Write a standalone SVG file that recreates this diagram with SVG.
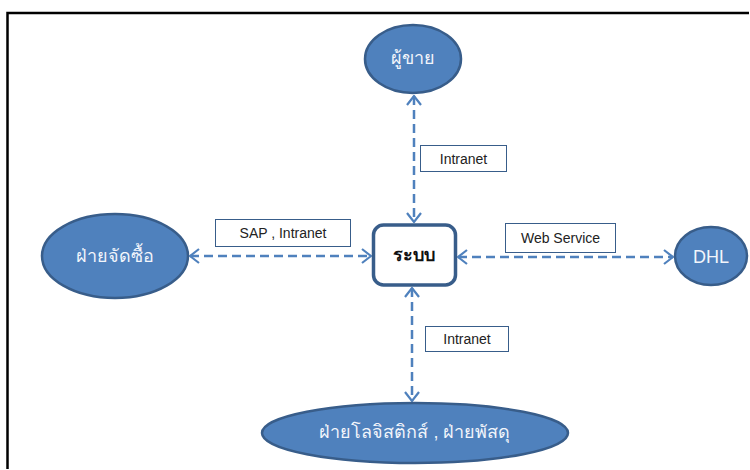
<svg xmlns="http://www.w3.org/2000/svg" width="750" height="470" viewBox="0 0 750 470">
  <style>
    .node { fill: #4F81BD; stroke: #385D8A; stroke-width: 2.5; }
    .ntext { fill: #F2F5FB; font-family: "Liberation Sans", "Noto Sans", sans-serif; font-size: 18px; text-anchor: middle; dominant-baseline: central; }
    .sys { fill: #FFFFFF; stroke: #385D8A; stroke-width: 3.5; }
    .systext { fill: #111111; font-family: "Liberation Sans", "Noto Sans", sans-serif; font-size: 18px; font-weight: bold; text-anchor: middle; dominant-baseline: central; }
    .link { fill: none; stroke: #4F81BD; stroke-width: 2.5; stroke-dasharray: 9 5; }
    .lbl { fill: #FFFFFF; stroke: #385D8A; stroke-width: 1; }
    .ltext { fill: #222222; font-family: "Liberation Sans", "Noto Sans", sans-serif; font-size: 14px; text-anchor: middle; dominant-baseline: central; }
    .frame { fill: none; stroke: #000000; stroke-width: 2.5; }
  </style>
  <defs>
    <marker id="chev" viewBox="0 0 11 16" refX="10" refY="8" markerWidth="11" markerHeight="16" markerUnits="userSpaceOnUse" orient="auto-start-reverse">
      <path d="M1,1 L10,8 L1,15" fill="none" stroke="#4F81BD" stroke-width="2.2"/>
    </marker>
  </defs>

  <!-- outer frame (top and left edges) -->
  <path class="frame" d="M7.5,469 V13 H749"/>

  <!-- connectors -->
  <g id="connectors">
    <line class="link" x1="414" y1="96" x2="414" y2="222" marker-start="url(#chev)" marker-end="url(#chev)"/>
    <line class="link" x1="190" y1="256" x2="371" y2="256" marker-start="url(#chev)" marker-end="url(#chev)"/>
    <line class="link" x1="458" y1="257" x2="673" y2="257" marker-start="url(#chev)" marker-end="url(#chev)"/>
    <line class="link" x1="412" y1="288" x2="412" y2="401" marker-start="url(#chev)" marker-end="url(#chev)"/>
  </g>

  <!-- connector labels -->
  <g id="label-top">
    <rect class="lbl" x="420.5" y="145.5" width="86" height="26"/>
    <text class="ltext" x="463.5" y="158.5">Intranet</text>
  </g>
  <g id="label-left">
    <rect class="lbl" x="215.5" y="219.5" width="135" height="27"/>
    <text class="ltext" x="283" y="233">SAP , Intranet</text>
  </g>
  <g id="label-right">
    <rect class="lbl" x="505.5" y="223.5" width="110" height="29"/>
    <text class="ltext" x="560.5" y="238">Web Service</text>
  </g>
  <g id="label-bottom">
    <rect class="lbl" x="425.5" y="326.5" width="83" height="25"/>
    <text class="ltext" x="467" y="339">Intranet</text>
  </g>

  <!-- nodes -->
  <g id="node-seller">
    <ellipse class="node" cx="413" cy="59" rx="48" ry="34"/>
    <text class="ntext" x="413" y="58">ผู้ขาย</text>
  </g>
  <g id="node-system">
    <rect class="sys" x="373.5" y="225" width="82" height="60" rx="10"/>
    <text class="systext" x="414" y="255">ระบบ</text>
  </g>
  <g id="node-purchasing">
    <ellipse class="node" cx="115" cy="256" rx="73" ry="42"/>
    <text class="ntext" x="115" y="256">ฝ่ายจัดซื้อ</text>
  </g>
  <g id="node-dhl">
    <ellipse class="node" cx="711" cy="256" rx="36" ry="29"/>
    <text class="ntext" x="711" y="257">DHL</text>
  </g>
  <g id="node-logistics">
    <ellipse class="node" cx="415" cy="433" rx="153" ry="30"/>
    <text class="ntext" x="415" y="432">ฝ่ายโลจิสติกส์ , ฝ่ายพัสดุ</text>
  </g>
</svg>
